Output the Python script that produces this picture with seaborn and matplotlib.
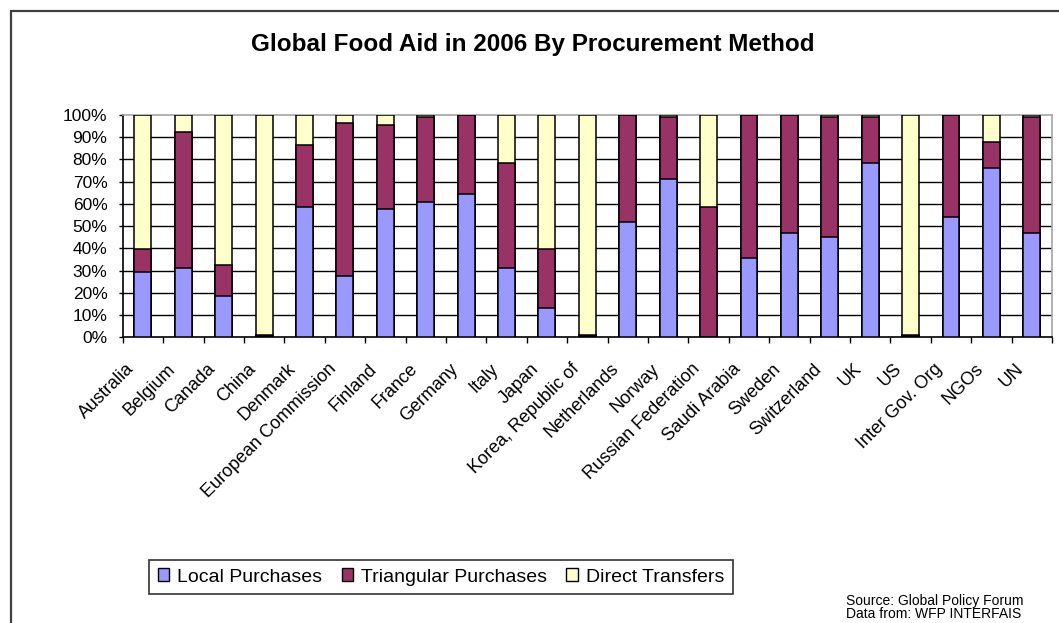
import numpy as np
import pandas as pd
import matplotlib
matplotlib.use("Agg")
import matplotlib.pyplot as plt
import seaborn as sns
from matplotlib.patches import Patch, Rectangle
from matplotlib.transforms import ScaledTranslation

# data (percent of each donor's food aid)
countries = ["Australia", "Belgium", "Canada", "China", "Denmark",
             "European Commission", "Finland", "France", "Germany", "Italy",
             "Japan", "Korea, Republic of", "Netherlands", "Norway",
             "Russian Federation", "Saudi Arabia", "Sweden", "Switzerland",
             "UK", "US", "Inter Gov. Org", "NGOs", "UN"]
local = [29.5, 31.3, 18.6, 0.5, 58.5, 27.7, 57.6, 61.0, 64.5, 31.3,
         13.3, 0.5, 52.0, 71.0, 0.0, 35.8, 46.8, 45.0, 78.3, 0.5,
         54.0, 76.3, 46.8]
triangular = [10.1, 61.2, 13.9, 0.5, 28.0, 68.8, 37.9, 38.0, 35.5, 47.0,
              26.3, 0.5, 48.0, 28.0, 58.5, 64.2, 53.2, 54.0, 20.7, 0.5,
              46.0, 11.7, 52.2]
direct = [60.4, 7.5, 67.5, 99.0, 13.5, 3.5, 4.5, 1.0, 0.0, 21.7,
          60.4, 99.0, 0.0, 1.0, 41.5, 0.0, 0.0, 1.0, 1.0, 99.0,
          0.0, 12.0, 1.0]
series_names = ["Local Purchases", "Triangular Purchases", "Direct Transfers"]
series_colors = ["#9999FF", "#993366", "#FFFFCC"]

df = pd.DataFrame({"country": countries, "local": local,
                   "triangular": triangular, "direct": direct})
df["lt"] = df["local"] + df["triangular"]
df["total"] = df["lt"] + df["direct"]

plt.rcParams["font.family"] = ["Liberation Sans", "DejaVu Sans"]

fig = plt.figure(figsize=(10.59, 6.23), dpi=100)
ax = fig.add_axes([0.1159, 0.4586, 0.9934 - 0.1159, 0.8154 - 0.4586])

# stacked bars: draw cumulative heights back to front
for col, c in zip(["total", "lt", "local"], series_colors[::-1]):
    sns.barplot(data=df, x="country", y=col, color=c, saturation=1,
                width=0.42, edgecolor="black", linewidth=1.1, ax=ax,
                zorder=3)

ax.set_ylim(0, 100)
ax.set_xlim(-0.5, len(countries) - 0.5)
ax.set_yticks(np.arange(0, 101, 10))
ax.set_yticklabels([f"{v}%" for v in range(0, 101, 10)])
ax.set_xlabel("")
ax.set_ylabel("")

for v in range(10, 100, 10):
    ax.axhline(v, color="black", lw=1.0, zorder=1)

for s in ["top", "right"]:
    ax.spines[s].set_color("#a6a6a6")
    ax.spines[s].set_linewidth(1.2)
for s in ["left", "bottom"]:
    ax.spines[s].set_color("black")
    ax.spines[s].set_linewidth(1.2)

ax.tick_params(axis="y", length=3, width=1, direction="out", pad=8,
               labelsize=12.5)
ax.set_xticks(np.arange(-0.5, len(countries), 1), minor=True)
ax.tick_params(axis="x", which="minor", length=4, width=1, direction="out")
ax.tick_params(axis="x", which="major", length=0, pad=21, labelsize=13)
for lab in ax.get_xticklabels():
    lab.set_rotation(45)
    lab.set_ha("right")
    lab.set_va("center")
    lab.set_rotation_mode("anchor")
    lab.set_transform(lab.get_transform() +
                      ScaledTranslation(-8 / 72, 0, fig.dpi_scale_trans))

fig.text(0.503, 1 - 45 / 623, "Global Food Aid in 2006 By Procurement Method",
         ha="center", va="center", fontsize=17.5, fontweight="bold")

handles = [Patch(facecolor=c, edgecolor="black", lw=1) for c in series_colors]
leg = fig.legend(handles, series_names, ncol=3, loc="center",
                 bbox_to_anchor=(441 / 1059, 1 - 577 / 623), fontsize=14,
                 frameon=True, fancybox=False, edgecolor="black",
                 handlelength=0.6, handleheight=0.6, handletextpad=0.4,
                 columnspacing=1.0, borderpad=0.45)
leg.get_frame().set_linewidth(1.2)

fig.text(846 / 1059, 1 - 601 / 623, "Source: Global Policy Forum",
         fontsize=10, va="center")
fig.text(846 / 1059, 1 - 614 / 623, "Data from: WFP INTERFAIS",
         fontsize=10, va="center")

# outer chart frame (runs off the right and bottom edges)
fig.patches.append(Rectangle((10.5 / 1059, -0.1), 1.2, 1.1 - 11 / 623,
                             transform=fig.transFigure, fill=False,
                             edgecolor="#404040", lw=1.6))

fig.savefig("out.png", dpi=100)
